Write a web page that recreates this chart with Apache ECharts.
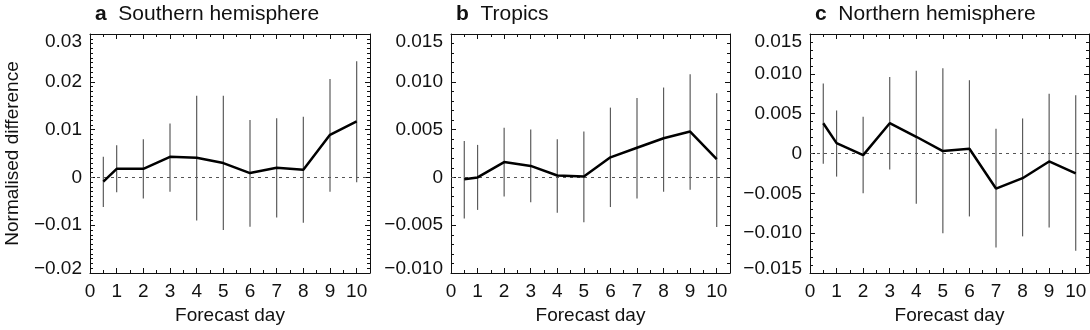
<!DOCTYPE html>
<html>
<head>
<meta charset="utf-8">
<style>
  html, body { margin: 0; padding: 0; background: #fff; }
  #chart { width: 1090px; height: 330px; }
</style>
<script src="https://cdn.jsdelivr.net/npm/echarts@6/dist/echarts.min.js"></script>
</head>
<body>
<div id="chart"></div>
<script>
// Forecast days (first point is day 0.5)
const days = [0.5, 1, 2, 3, 4, 5, 6, 7, 8, 9, 10];
const xTickLabels = ['0', '1', '2', '3', '4', '5', '6', '7', '8', '9', '10'];

// a: Southern hemisphere
const southMean = [-0.0009, 0.0018, 0.0018, 0.0043, 0.0041, 0.0030, 0.0009, 0.0020, 0.0016, 0.0089, 0.0117];
const southHigh = [0.0043, 0.0067, 0.0080, 0.0113, 0.0171, 0.0171, 0.0120, 0.0124, 0.0127, 0.0206, 0.0243];
const southLow  = [-0.0062, -0.0031, -0.0044, -0.0030, -0.0090, -0.0110, -0.0103, -0.0084, -0.0095, -0.0030, -0.0010];
const southTicks = ['\u22120.02', '\u22120.01', '0', '0.01', '0.02', '0.03'];

// b: Tropics
const tropicsMean = [-0.0002, 0.0000, 0.0016, 0.0012, 0.0002, 0.0001, 0.0021, 0.0031, 0.0041, 0.0048, 0.0019];
const tropicsHigh = [0.0038, 0.0034, 0.0052, 0.0050, 0.0040, 0.0048, 0.0073, 0.0083, 0.0094, 0.0108, 0.0088];
const tropicsLow  = [-0.0043, -0.0034, -0.0020, -0.0026, -0.0037, -0.0047, -0.0031, -0.0022, -0.0015, -0.0013, -0.0052];
const tropicsTicks = ['\u22120.010', '\u22120.005', '0', '0.005', '0.010', '0.015'];

// c: Northern hemisphere
const northMean = [0.0038, 0.0013, -0.0002, 0.0038, 0.0021, 0.0003, 0.0006, -0.0044, -0.0031, -0.0010, -0.0025];
const northHigh = [0.0088, 0.0054, 0.0046, 0.0096, 0.0104, 0.0107, 0.0092, 0.0031, 0.0044, 0.0075, 0.0073];
const northLow  = [-0.0013, -0.0029, -0.0050, -0.0020, -0.0063, -0.0100, -0.0079, -0.0118, -0.0104, -0.0093, -0.0122];
const northTicks = ['\u22120.015', '\u22120.010', '\u22120.005', '0', '0.005', '0.010', '0.015'];

const FONT = "'Liberation Sans', Arial, Helvetica, sans-serif";
const INK = '#111';

const panels = [
  { letter: 'a', title: 'Southern hemisphere', mean: southMean, high: southHigh, low: southLow,
    ticks: southTicks, min: -0.02, max: 0.03, interval: 0.01, minorSplit: 10, left: 90, width: 280 },
  { letter: 'b', title: 'Tropics', mean: tropicsMean, high: tropicsHigh, low: tropicsLow,
    ticks: tropicsTicks, min: -0.010, max: 0.015, interval: 0.005, minorSplit: 5, left: 451, width: 279 },
  { letter: 'c', title: 'Northern hemisphere', mean: northMean, high: northHigh, low: northLow,
    ticks: northTicks, min: -0.015, max: 0.015, interval: 0.005, minorSplit: 5, left: 810, width: 279 }
];

const X_MAX = 10.5;
const grid = [], xAxis = [], yAxis = [], series = [], title = [];

const labelRich = {
  top: { fontFamily: FONT, fontSize: 19, color: INK, padding: [15, 0, 0, 0] },
  bot: { fontFamily: FONT, fontSize: 19, color: INK, padding: [0, 0, 8, 0] }
};

panels.forEach((p, gi) => {
  grid.push({ left: p.left, top: 34, width: p.width, height: 239, containLabel: false });

  title.push({
    left: p.left, top: -1,
    text: '{b|' + p.letter + '}  ' + p.title,
    textStyle: {
      fontFamily: FONT, fontSize: 21, fontWeight: 'normal', color: INK,
      rich: { b: { fontFamily: FONT, fontSize: 21, fontWeight: 'bold', color: INK } }
    }
  });

  // x axes: bottom (major + minor ticks) and top (mirrored ticks)
  const xBase = {
    gridIndex: gi, type: 'value', min: 0, max: X_MAX,
    splitLine: { show: false },
    axisLine: { onZero: false, show: true, lineStyle: { color: INK, width: 1 } },
    axisTick: { inside: true, length: 5, lineStyle: { color: INK, width: 1 } }
  };
  const xMain = xAxis.length;
  xAxis.push(Object.assign({}, xBase, {
    position: 'bottom', interval: 1,
    name: 'Forecast day', nameLocation: 'middle', nameGap: 30,
    nameTextStyle: { fontFamily: FONT, fontSize: 19, color: INK },
    axisLabel: {
      margin: 9, fontFamily: FONT, fontSize: 19, color: INK, showMaxLabel: false,
      formatter: v => (Math.abs(v - Math.round(v)) < 1e-9 ? xTickLabels[Math.round(v)] : '')
    }
  }));
  xAxis.push(Object.assign({}, xBase, {
    position: 'bottom', interval: 0.5, axisLine: { show: false, onZero: false },
    axisTick: { inside: true, length: 3, lineStyle: { color: INK, width: 1 } },
    axisLabel: { show: false }
  }));
  xAxis.push(Object.assign({}, xBase, { position: 'top', interval: 1, axisLabel: { show: false } }));
  xAxis.push(Object.assign({}, xBase, {
    position: 'top', interval: 0.5, axisLine: { show: false, onZero: false },
    axisTick: { inside: true, length: 3, lineStyle: { color: INK, width: 1 } },
    axisLabel: { show: false }
  }));

  // y axes: left with labels, right mirrored
  const yBase = {
    gridIndex: gi, type: 'value', min: p.min, max: p.max, interval: p.interval,
    splitLine: { show: false },
    axisLine: { onZero: false, show: true, lineStyle: { color: INK, width: 1 } },
    axisTick: { inside: true, length: 5, lineStyle: { color: INK, width: 1 } },
    minorTick: { show: true, splitNumber: p.minorSplit, length: 3, lineStyle: { color: INK, width: 1 } },
    minorSplitLine: { show: false }
  };
  const yMain = yAxis.length;
  const lastIdx = p.ticks.length - 1;
  const yLeft = Object.assign({}, yBase, {
    position: 'left',
    axisLabel: {
      margin: 8, fontFamily: FONT, fontSize: 19, color: INK, rich: labelRich,
      formatter: v => {
        const k = Math.round((v - p.min) / p.interval);
        if (k === lastIdx) return '{top|' + p.ticks[k] + '}';
        if (k === 0) return '{bot|' + p.ticks[k] + '}';
        return p.ticks[k];
      }
    }
  });
  if (gi === 0) {
    Object.assign(yLeft, {
      name: 'Normalised difference', nameLocation: 'middle', nameGap: 68,
      nameTextStyle: { fontFamily: FONT, fontSize: 19, color: INK }
    });
  }
  yAxis.push(yLeft);
  yAxis.push(Object.assign({}, yBase, { position: 'right', axisLabel: { show: false } }));

  // error bars
  series.push({
    type: 'custom', xAxisIndex: xMain, yAxisIndex: yMain, z: 2, silent: true,
    data: days.map((d, i) => [d, p.low[i], p.high[i]]),
    encode: { x: 0, y: [1, 2] },
    renderItem: (params, api) => {
      const a = api.coord([api.value(0), api.value(1)]);
      const b = api.coord([api.value(0), api.value(2)]);
      return {
        type: 'line',
        shape: { x1: a[0], y1: a[1], x2: b[0], y2: b[1] },
        style: { stroke: '#5c5c5c', lineWidth: 1.2 }
      };
    }
  });

  // mean difference line with dashed zero reference
  series.push({
    type: 'line', xAxisIndex: xMain, yAxisIndex: yMain, z: 3,
    data: days.map((d, i) => [d, p.mean[i]]),
    showSymbol: false, symbol: 'none',
    lineStyle: { color: '#000', width: 2.5 },
    markLine: {
      silent: true, symbol: 'none', label: { show: false }, z: 1,
      lineStyle: { type: [3, 4], color: '#555', width: 1 },
      data: [{ yAxis: 0 }]
    }
  });
});

const chart = echarts.init(document.getElementById('chart'), null, { renderer: 'canvas' });
chart.setOption({
  animation: false,
  backgroundColor: '#fff',
  title, grid, xAxis, yAxis, series
});
</script>
</body>
</html>
